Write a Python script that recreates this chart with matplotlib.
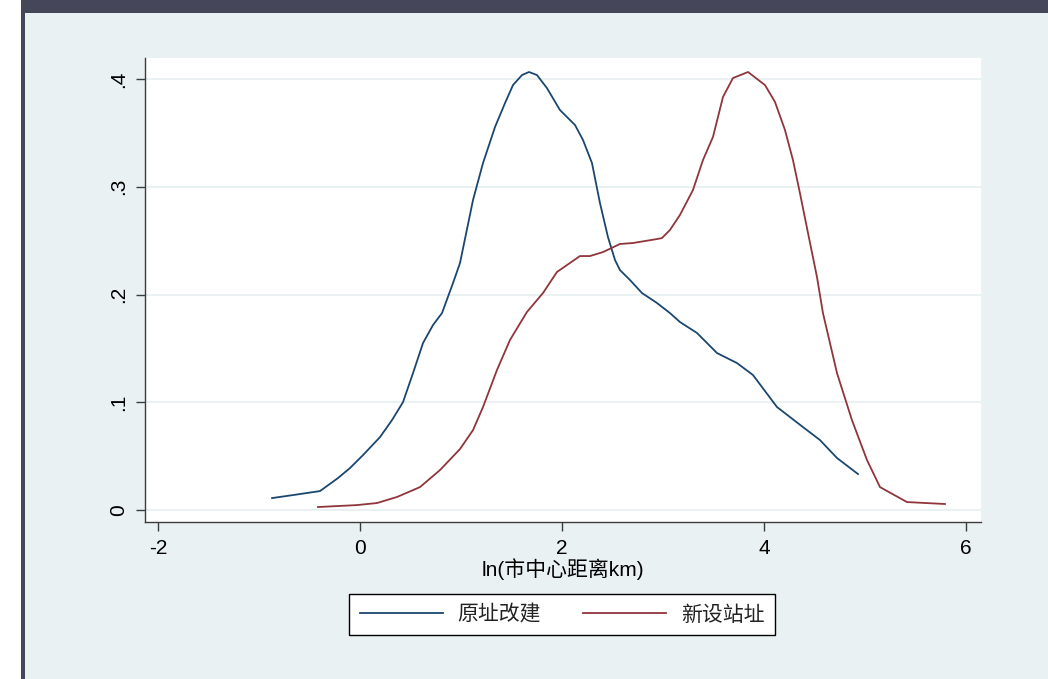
import matplotlib
matplotlib.use("Agg")
import matplotlib.pyplot as plt
from matplotlib.patches import Rectangle

plt.rcParams['font.family'] = ['Liberation Sans', 'Noto Sans CJK SC', 'DejaVu Sans']

# 原址改建 (kernel density)
x_yuanzhi = [-0.871, -0.663, -0.396, -0.218, -0.099, 0.030, 0.198, 0.317, 0.426, 0.525,
             0.624, 0.723, 0.812, 0.921, 0.990, 1.119, 1.218, 1.337, 1.436, 1.515,
             1.604, 1.673, 1.752, 1.851, 1.980, 2.129, 2.208, 2.297, 2.376, 2.455,
             2.525, 2.574, 2.673, 2.792, 2.941, 3.069, 3.168, 3.337, 3.535, 3.733,
             3.891, 4.129, 4.386, 4.554, 4.723, 4.931]
y_yuanzhi = [0.0111, 0.0139, 0.0176, 0.0297, 0.0390, 0.0510, 0.0677, 0.0835, 0.1002, 0.1271,
             0.1550, 0.1717, 0.1828, 0.2107, 0.2292, 0.2877, 0.3220, 0.3555, 0.3777, 0.3944,
             0.4037, 0.4065, 0.4037, 0.3916, 0.3712, 0.3573, 0.3434, 0.3220, 0.2849, 0.2534,
             0.2320, 0.2227, 0.2135, 0.2014, 0.1921, 0.1828, 0.1745, 0.1643, 0.1457, 0.1364,
             0.1253, 0.0956, 0.0770, 0.0650, 0.0483, 0.0334]

# 新设站址
x_xinshe = [-0.416, -0.030, 0.168, 0.366, 0.594, 0.792, 0.990, 1.119, 1.218, 1.356,
            1.485, 1.653, 1.812, 1.950, 2.178, 2.277, 2.406, 2.574, 2.703, 2.941,
            2.990, 3.069, 3.168, 3.297, 3.396, 3.495, 3.594, 3.693, 3.842, 4.010,
            4.109, 4.208, 4.287, 4.356, 4.436, 4.525, 4.584, 4.723, 4.871, 5.020,
            5.149, 5.416, 5.792]
y_xinshe = [0.0028, 0.0046, 0.0065, 0.0121, 0.0213, 0.0371, 0.0566, 0.0742, 0.0956, 0.1299,
            0.1578, 0.1838, 0.2014, 0.2209, 0.2357, 0.2357, 0.2394, 0.2469, 0.2478, 0.2515,
            0.2524, 0.2599, 0.2738, 0.2970, 0.3248, 0.3462, 0.3833, 0.4009, 0.4065, 0.3944,
            0.3787, 0.3527, 0.3248, 0.2942, 0.2571, 0.2162, 0.1828, 0.1271, 0.0835, 0.0464,
            0.0213, 0.0074, 0.0056]

x_ticks = [-2, 0, 2, 4, 6]
y_ticks = [0, 0.1, 0.2, 0.3, 0.4]
y_labels = ['0', '.1', '.2', '.3', '.4']

W, H = 1048, 679
fig = plt.figure(figsize=(W / 100, H / 100), dpi=100)
fig.patch.set_facecolor('white')

# background frame like the screenshot
fig.patches.append(Rectangle((25 / W, 0), 1 - 25 / W, 1 - 13 / H, transform=fig.transFigure,
                             facecolor='#eaf1f3', edgecolor='none', zorder=-3))
fig.patches.append(Rectangle((21 / W, 0), 4 / W, 1, transform=fig.transFigure,
                             facecolor='#46465a', edgecolor='none', zorder=-2))
fig.patches.append(Rectangle((21 / W, 1 - 13 / H), 1 - 21 / W, 13 / H, transform=fig.transFigure,
                             facecolor='#46465a', edgecolor='none', zorder=-2))

ax = fig.add_axes([145 / W, 1 - 522 / H, 836 / W, 464 / H])
ax.set_facecolor('white')

l1, = ax.plot(x_yuanzhi, y_yuanzhi, color='#1a476f', lw=1.3, label='原址改建')
l2, = ax.plot(x_xinshe, y_xinshe, color='#90353b', lw=1.3, label='新设站址')

ax.set_xlim(-2.129, 6.149)
ax.set_ylim(-0.0111, 0.4195)
ax.set_xticks(x_ticks)
ax.set_xticklabels([str(t) for t in x_ticks])
ax.set_yticks(y_ticks)
ax.set_yticklabels(y_labels, rotation=90, va='center')

ax.grid(axis='y', color='#eaf1f3', lw=1.4)
ax.set_axisbelow(True)

for s in ['top', 'right']:
    ax.spines[s].set_visible(False)
for s in ['left', 'bottom']:
    ax.spines[s].set_color('#3c3c3c')
    ax.spines[s].set_linewidth(1.0)

ax.tick_params(axis='both', direction='out', length=6.5, width=1.0, color='#3c3c3c',
               labelsize=15, labelcolor='black')
ax.tick_params(axis='x', pad=6)
ax.tick_params(axis='y', pad=6)

ax.set_xlabel('ln(市中心距离km)', fontsize=15, labelpad=0)

leg = fig.legend(handles=[l1, l2], loc='center', ncol=2,
                 bbox_to_anchor=(562 / W, 1 - 614.5 / H), fontsize=15,
                 frameon=True, fancybox=False, handlelength=4.0, handletextpad=0.7,
                 columnspacing=2.0, borderpad=0.5)
leg.get_frame().set_edgecolor('black')
leg.get_frame().set_linewidth(1.0)
leg.get_frame().set_facecolor('white')
leg.get_frame().set_alpha(1)
for t in leg.get_texts():
    t.set_color('#222222')

fig.savefig('out.png', dpi=100)
